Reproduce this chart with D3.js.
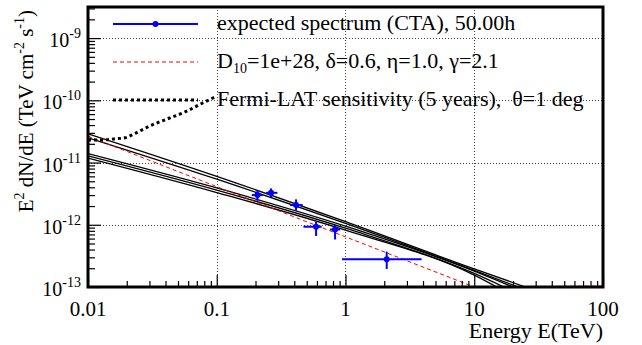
<!DOCTYPE html>
<html>
<head>
<meta charset="utf-8">
<script src="https://cdn.jsdelivr.net/npm/d3@7"></script>
<style>
body { margin: 0; background: #fff; }
</style>
</head>
<body>
<svg id="chart" width="642" height="345"></svg>
<script>
// Global sizes
var width = 642,
    height = 345;
var margin = {top: 7, right: 39, bottom: 58, left: 88};
var W = width - margin.left - margin.right,
    H = height - margin.top - margin.bottom;

var yFloor = 1e-13;
var fontName = "Liberation Serif";

// CTA expected spectrum, 50 h (energy in TeV, E^2 dN/dE in TeV cm^-2 s^-1)
var cta_E    = [0.207, 0.264, 0.413, 0.591, 0.830, 2.09];
var cta_Elo  = [0.187, 0.2415, 0.371, 0.471, 0.759, 0.94];
var cta_Ehi  = [0.228, 0.296, 0.466, 0.654, 0.908, 3.9];
var cta_F    = [3.0e-12, 3.26e-12, 2.07e-12, 9.3e-13, 8.4e-13, 2.8e-13];
var cta_Flo  = [2.43e-12, 2.75e-12, 1.68e-12, 6.6e-13, 5.8e-13, 1.95e-13];
var cta_Fhi  = [3.6e-12, 3.84e-12, 2.56e-12, 1.12e-12, 9.9e-13, 3.7e-13];

// model curves, read at these energies
var sed_E = [0.01, 0.1, 1, 10];
var sed_black = [
  [2.9e-11, 6.0e-12, 1.12e-12, 1.95e-13],
  [2.5e-11, 5.4e-12, 1.05e-12, 1.85e-13],
  [1.39e-11, 3.9e-12, 9.5e-13, 1.8e-13],
  [1.28e-11, 3.6e-12, 8.8e-13, 1.65e-13],
  [1.18e-11, 3.3e-12, 8.2e-13, 1.55e-13]
];
var sed_black_end = [25, 22, 20, 17, 15];   // energy where each curve reaches 1e-13
var sed_red = [2.65e-11, 4.1e-12, 6.4e-13, 1.0e-13];

// Fermi-LAT sensitivity (5 years)
var fermi_E = [0.01, 0.0125, 0.016, 0.0194, 0.0232, 0.0313, 0.0421, 0.0567, 0.0764, 0.097];
var fermi_F = [2.3e-11, 2.3e-11, 2.4e-11, 2.5e-11, 2.95e-11, 4.0e-11, 5.1e-11, 6.5e-11, 8.9e-11, 1.13e-10];

var xMajor = [0.01, 0.1, 1, 10, 100];
var xLabels = ["0.01", "0.1", "1", "10", "100"];
var yMajor = [1e-13, 1e-12, 1e-11, 1e-10, 1e-9];
var yExp = ["-13", "-12", "-11", "-10", "-9"];

var svg = d3.select("#chart");

// set the font both as attribute and as style, on text and on tspans
function font(sel, size) {
  sel.attr("font-family", fontName).attr("font-size", size)
     .style("font-family", fontName).style("font-size", size + "px");
  return sel;
}

var x = d3.scaleLog().domain([0.01, 100]).range([margin.left, margin.left + W]);
var y = d3.scaleLog().domain([yFloor, 3.16e-9]).range([margin.top + H, margin.top]);

svg.append("clipPath").attr("id", "clip")
  .append("rect")
  .attr("x", margin.left).attr("y", margin.top)
  .attr("width", W).attr("height", H);

// grid
var grid = svg.append("g").attr("class", "grid")
  .attr("stroke", "#444").attr("stroke-width", 1).attr("stroke-dasharray", "1,2");
grid.selectAll(".gx").data(xMajor.slice(1, -1)).enter().append("line")
  .attr("x1", function(d) { return Math.round(x(d)) + 0.5; })
  .attr("x2", function(d) { return Math.round(x(d)) + 0.5; })
  .attr("y1", margin.top).attr("y2", margin.top + H);
grid.selectAll(".gy").data(yMajor.slice(1)).enter().append("line")
  .attr("y1", function(d) { return Math.round(y(d)) + 0.5; })
  .attr("y2", function(d) { return Math.round(y(d)) + 0.5; })
  .attr("x1", margin.left).attr("x2", margin.left + W);

var plot = svg.append("g").attr("clip-path", "url(#clip)");

var line = d3.line()
  .x(function(d) { return x(d[0]); })
  .y(function(d) { return y(Math.max(d[1], yFloor)); })
  .curve(d3.curveMonotoneX);

// black model curves
sed_black.forEach(function(vals, i) {
  var pts = sed_E.map(function(e, j) { return [e, vals[j]]; });
  pts.push([sed_black_end[i], yFloor]);
  plot.append("path")
    .attr("d", line(pts))
    .attr("fill", "none")
    .attr("stroke", "black")
    .attr("stroke-width", 1.3);
});

// red dashed model
var redPts = sed_E.map(function(e, j) { return [e, sed_red[j]]; });
plot.append("path")
  .attr("d", line(redPts) + "L" + x(100) + "," + (y(yFloor) - 1))
  .attr("fill", "none")
  .attr("stroke", "#ff0000")
  .attr("stroke-width", 1)
  .attr("stroke-dasharray", "4,3");

// Fermi sensitivity
plot.append("path")
  .attr("d", line(fermi_E.map(function(e, j) { return [e, fermi_F[j]]; })))
  .attr("fill", "none")
  .attr("stroke", "black")
  .attr("stroke-width", 3)
  .attr("stroke-dasharray", "3,3");

// CTA points
var cta = plot.append("g").attr("stroke", "#0000ff").attr("stroke-width", 2);
cta_E.forEach(function(e, i) {
  cta.append("line")
    .attr("x1", x(cta_Elo[i])).attr("x2", x(cta_Ehi[i]))
    .attr("y1", y(cta_F[i])).attr("y2", y(cta_F[i]));
  cta.append("line")
    .attr("x1", x(e)).attr("x2", x(e))
    .attr("y1", y(cta_Flo[i])).attr("y2", y(cta_Fhi[i]));
  cta.append("circle")
    .attr("cx", x(e)).attr("cy", y(cta_F[i])).attr("r", 3)
    .attr("fill", "#0000ff").attr("stroke", "none");
});

// ticks (inside the frame)
var xMinor = x.ticks().filter(function(d) { return xMajor.indexOf(d) == -1; });
var yMinor = y.ticks().filter(function(d) { return yMajor.map(String).indexOf(String(d)) == -1; });

function styleAxis(g) {
  g.select(".domain").remove();
  g.selectAll("line").attr("stroke", "black").attr("stroke-width", 1.2);
}

svg.append("g").attr("transform", "translate(0," + (margin.top + H) + ")")
  .call(d3.axisBottom(x).tickValues(xMinor).tickSize(-6).tickFormat(""))
  .call(styleAxis);
svg.append("g").attr("transform", "translate(0," + (margin.top + H) + ")")
  .call(d3.axisBottom(x).tickValues(xMajor).tickSize(-12).tickFormat(""))
  .call(styleAxis);
svg.append("g").attr("transform", "translate(" + margin.left + ",0)")
  .call(d3.axisLeft(y).tickValues(yMinor).tickSize(-7).tickFormat(""))
  .call(styleAxis);
svg.append("g").attr("transform", "translate(" + margin.left + ",0)")
  .call(d3.axisLeft(y).tickValues(yMajor).tickSize(-13).tickFormat(""))
  .call(styleAxis);

// frame
svg.append("rect")
  .attr("x", margin.left).attr("y", margin.top)
  .attr("width", W).attr("height", H)
  .attr("fill", "none").attr("stroke", "black").attr("stroke-width", 3);

// tick labels
svg.selectAll(".xl").data(xMajor).enter().append("text")
  .attr("x", function(d) { return x(d); })
  .attr("y", 316)
  .attr("text-anchor", "middle")
  .call(font, 21)
  .text(function(d, i) { return xLabels[i]; });

var yl = svg.selectAll(".yl").data(yMajor).enter().append("text")
  .attr("x", 81)
  .attr("y", function(d) { return y(d) + 9; })
  .attr("text-anchor", "end")
  .call(font, 20);
yl.append("tspan").call(font, 20).text("10");
yl.append("tspan").attr("dy", -9).call(font, 14)
  .text(function(d, i) { return yExp[i]; });

// axis titles
svg.append("text")
  .attr("x", margin.left + W).attr("y", 338)
  .attr("text-anchor", "end")
  .call(font, 22)
  .text("Energy E(TeV)");

var yt = svg.append("text")
  .attr("transform", "translate(33,10) rotate(-90)")
  .attr("text-anchor", "end")
  .call(font, 21);
yt.append("tspan").call(font, 21).text("E");
yt.append("tspan").attr("dy", -9).call(font, 14).text("2");
yt.append("tspan").attr("dy", 9).call(font, 21).text(" dN/dE (TeV cm");
yt.append("tspan").attr("dy", -9).call(font, 14).text("-2");
yt.append("tspan").attr("dy", 9).call(font, 21).text(" s");
yt.append("tspan").attr("dy", -9).call(font, 14).text("-1");
yt.append("tspan").attr("dy", 9).call(font, 21).text(")");

// legend
var legend = svg.append("g");
var lx0 = 113, lx1 = 198, tx = 217;
var rows = [24, 62, 100];

legend.append("line").attr("x1", lx0).attr("x2", lx1).attr("y1", rows[0]).attr("y2", rows[0])
  .attr("stroke", "#0000ff").attr("stroke-width", 2);
legend.append("circle").attr("cx", (lx0 + lx1) / 2).attr("cy", rows[0]).attr("r", 3)
  .attr("fill", "#0000ff");
legend.append("text").attr("x", tx).attr("y", rows[0] + 6)
  .call(font, 22)
  .text("expected spectrum (CTA), 50.00h");

legend.append("line").attr("x1", lx0).attr("x2", lx1).attr("y1", rows[1]).attr("y2", rows[1])
  .attr("stroke", "#ff0000").attr("stroke-width", 1).attr("stroke-dasharray", "4,3");
var t2 = legend.append("text").attr("x", tx).attr("y", rows[1] + 6).call(font, 22);
t2.append("tspan").call(font, 22).text("D");
t2.append("tspan").attr("dy", 5).call(font, 14).text("10");
t2.append("tspan").attr("dy", -5).call(font, 22).text("=1e+28, \u03b4=0.6, \u03b7=1.0, \u03b3=2.1");

legend.append("line").attr("x1", lx0).attr("x2", lx1).attr("y1", rows[2]).attr("y2", rows[2])
  .attr("stroke", "black").attr("stroke-width", 3).attr("stroke-dasharray", "3,3");
legend.append("text").attr("x", tx).attr("y", rows[2] + 6)
  .call(font, 22)
  .attr("xml:space", "preserve")
  .style("white-space", "pre")
  .text("Fermi-LAT sensitivity (5 years),  \u03b8=1 deg");
</script>
</body>
</html>
